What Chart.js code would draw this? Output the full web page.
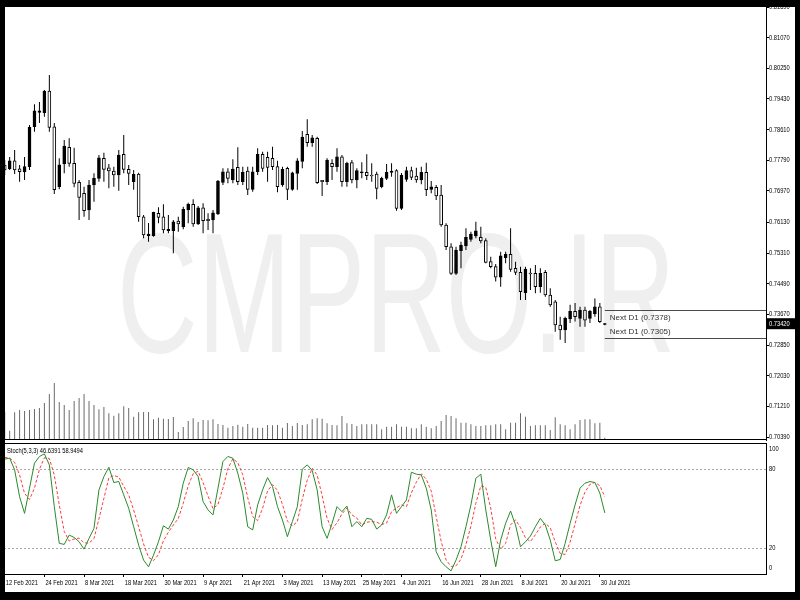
<!DOCTYPE html>
<html>
<head>
<meta charset="utf-8">
<script src="https://cdn.jsdelivr.net/npm/chart.js@4.4.1/dist/chart.umd.min.js"></script>
<style>
  html, body { margin: 0; padding: 0; background: #fff; }
  #wrap { position: relative; width: 800px; height: 600px; overflow: hidden; background: #fff; }
  #mark { position: absolute; left: 117px; top: 208px; font-family: 'Liberation Sans', Arial, sans-serif; font-size: 170px; line-height: 1; color: #efefef; transform: scaleX(0.657); transform-origin: 0 0; white-space: nowrap; }
  #main { position: absolute; left: 0; top: 0; }
  #stoch { position: absolute; left: 0; top: 441px; }
  #frame { position: absolute; left: 0; top: 0; width: 800px; height: 600px; box-sizing: border-box; border-style: solid; border-color: #000; border-width: 7px 5px 8px 5px; pointer-events: none; }
</style>
</head>
<body>
<div id="wrap">
  <div id="mark">CMPRO.IR</div>
  <canvas id="main" width="800" height="441"></canvas>
  <canvas id="stoch" width="800" height="159"></canvas>
  <div id="frame"></div>
</div>
<script>
// ===================
// Data
// ===================

const tickDates = ['12 Feb 2021', '24 Feb 2021', '8 Mar 2021', '18 Mar 2021', '30 Mar 2021', '9 Apr 2021', '21 Apr 2021', '3 May 2021',
  '13 May 2021', '25 May 2021', '4 Jun 2021', '16 Jun 2021', '28 Jun 2021', '8 Jul 2021', '20 Jul 2021', '30 Jul 2021'];
const barsPerDateTick = 8;

const opens = [
  0.77664, 0.77565, 0.77779, 0.77565, 0.77477, 0.77619, 0.78688, 0.79074, 0.79063, 0.79643,
  0.78688, 0.77084, 0.77691, 0.78137, 0.77710, 0.77201, 0.76907, 0.76461, 0.77129, 0.77308,
  0.77843, 0.77592, 0.77504, 0.77397, 0.77950, 0.77549, 0.77217, 0.77423, 0.76281, 0.75773,
  0.75773, 0.76372, 0.76281, 0.75907, 0.75907, 0.76166, 0.76014, 0.76461, 0.76613, 0.76086,
  0.76522, 0.76212, 0.76193, 0.76354, 0.77201, 0.77485, 0.77263, 0.77602, 0.77217, 0.77504,
  0.77014, 0.77485, 0.77950, 0.77870, 0.77843, 0.77619, 0.77129, 0.77576, 0.77014, 0.77442,
  0.77758, 0.78485, 0.78260, 0.78378, 0.77255, 0.77217, 0.77710, 0.77619, 0.77886, 0.77217,
  0.77726, 0.77263, 0.77458, 0.77469, 0.77397, 0.77423, 0.77084, 0.77308, 0.77469, 0.77512,
  0.76506, 0.77282, 0.77512, 0.77370, 0.77263, 0.77469, 0.77014, 0.77068, 0.76862, 0.76059,
  0.75479, 0.74768, 0.75372, 0.75498, 0.75677, 0.75765, 0.75730, 0.75640, 0.75080, 0.74946,
  0.74663, 0.75185, 0.75276, 0.74901, 0.74795, 0.74249, 0.74768, 0.74768, 0.74410, 0.74795,
  0.74187, 0.74008, 0.73385, 0.73251, 0.73545, 0.73748, 0.73563, 0.73786, 0.73563, 0.73687,
  0.73874, 0.73400];

const highs = [
  0.77798, 0.77878, 0.78065, 0.77664, 0.77878, 0.78734, 0.79287, 0.79349, 0.79670, 0.80071,
  0.78787, 0.77843, 0.78333, 0.78378, 0.78127, 0.77263, 0.77084, 0.77263, 0.77442, 0.77932,
  0.77993, 0.77691, 0.77619, 0.78065, 0.78466, 0.77664, 0.77530, 0.77458, 0.76327, 0.76113,
  0.76415, 0.76533, 0.76613, 0.76327, 0.76193, 0.76281, 0.76549, 0.76656, 0.76747, 0.76568,
  0.76640, 0.76372, 0.76461, 0.77263, 0.77576, 0.77576, 0.77816, 0.78137, 0.77619, 0.77619,
  0.77619, 0.78111, 0.78020, 0.78020, 0.78153, 0.77779, 0.77619, 0.77619, 0.77485, 0.77843,
  0.78573, 0.78889, 0.78466, 0.78421, 0.77263, 0.77843, 0.77816, 0.78111, 0.77932, 0.77752,
  0.77798, 0.77576, 0.77736, 0.77950, 0.77710, 0.77485, 0.77351, 0.77691, 0.77710, 0.77549,
  0.77450, 0.77619, 0.77619, 0.77592, 0.77619, 0.77726, 0.77236, 0.77129, 0.77129, 0.76105,
  0.75570, 0.75479, 0.75613, 0.75971, 0.75880, 0.76148, 0.76014, 0.75704, 0.75213, 0.75018,
  0.75345, 0.75345, 0.75971, 0.75080, 0.74946, 0.74946, 0.74901, 0.74991, 0.74901, 0.74856,
  0.74366, 0.74054, 0.73607, 0.73607, 0.73928, 0.73973, 0.73874, 0.73874, 0.73786, 0.74097,
  0.73973, 0.73440];

const lows = [
  0.77397, 0.77530, 0.77423, 0.77217, 0.77263, 0.77530, 0.78555, 0.78787, 0.78956, 0.78555,
  0.76888, 0.77014, 0.77442, 0.77619, 0.77068, 0.76193, 0.76281, 0.76193, 0.76683, 0.77217,
  0.77217, 0.77041, 0.77084, 0.76977, 0.77442, 0.77129, 0.77002, 0.76148, 0.75704, 0.75613,
  0.75746, 0.76105, 0.75837, 0.75837, 0.75303, 0.75880, 0.75944, 0.76105, 0.76014, 0.76059,
  0.75837, 0.75926, 0.75837, 0.76327, 0.77129, 0.77175, 0.77175, 0.77129, 0.77129, 0.76862,
  0.76950, 0.77397, 0.77485, 0.77217, 0.77530, 0.76934, 0.77084, 0.76728, 0.76977, 0.77002,
  0.77576, 0.78153, 0.78153, 0.77156, 0.76835, 0.77129, 0.77263, 0.77485, 0.77084, 0.77084,
  0.77175, 0.77041, 0.77308, 0.77263, 0.77217, 0.76747, 0.77041, 0.77263, 0.77351, 0.76442,
  0.76461, 0.77217, 0.77263, 0.77191, 0.77148, 0.76835, 0.76907, 0.76728, 0.76014, 0.75391,
  0.74722, 0.74722, 0.74901, 0.75391, 0.75613, 0.75704, 0.75570, 0.75035, 0.74901, 0.74546,
  0.74408, 0.75035, 0.74811, 0.74722, 0.74054, 0.74054, 0.74321, 0.74232, 0.74249, 0.74142,
  0.73874, 0.73206, 0.72994, 0.72905, 0.73437, 0.73482, 0.73339, 0.73339, 0.73437, 0.73607,
  0.73437, 0.73380];

const closes = [
  0.77530, 0.77779, 0.77530, 0.77485, 0.77619, 0.78672, 0.79116, 0.79116, 0.79643, 0.78672,
  0.77002, 0.77672, 0.78172, 0.77710, 0.77175, 0.76800, 0.76442, 0.77129, 0.77308, 0.77859,
  0.77549, 0.77504, 0.77397, 0.77932, 0.77549, 0.77442, 0.77415, 0.76281, 0.75792, 0.75819,
  0.76399, 0.76265, 0.75926, 0.75944, 0.76148, 0.76086, 0.76479, 0.76613, 0.76086, 0.76522,
  0.76174, 0.76174, 0.76388, 0.77236, 0.77485, 0.77308, 0.77557, 0.77217, 0.77469, 0.77014,
  0.77485, 0.77950, 0.77576, 0.77602, 0.77619, 0.77084, 0.77549, 0.77014, 0.77458, 0.77779,
  0.78413, 0.78260, 0.78394, 0.77191, 0.77217, 0.77798, 0.77619, 0.77886, 0.77217, 0.77710,
  0.77263, 0.77512, 0.77485, 0.77378, 0.77370, 0.77041, 0.77308, 0.77469, 0.77504, 0.76506,
  0.77397, 0.77512, 0.77335, 0.77263, 0.77469, 0.77002, 0.77084, 0.76835, 0.76059, 0.75479,
  0.74768, 0.75391, 0.75525, 0.75730, 0.75819, 0.75907, 0.75632, 0.75062, 0.74946, 0.74663,
  0.75238, 0.75276, 0.74875, 0.74795, 0.74276, 0.74883, 0.74749, 0.74410, 0.74768, 0.74187,
  0.73920, 0.73385, 0.73251, 0.73563, 0.73748, 0.73607, 0.73786, 0.73518, 0.73748, 0.73874,
  0.73473, 0.73420];

// tick volume, thousands
const volumes = [
  84, 28, 83, 90, 87, 90, 93, 96, 111, 138,
  171, 114, 105, 90, 117, 126, 138, 117, 105, 92,
  99, 80, 73, 80, 101, 96, 70, 83, 84, 84,
  62, 67, 64, 63, 69, 24, 39, 57, 65, 54,
  60, 59, 62, 48, 45, 37, 42, 46, 40, 48,
  37, 37, 37, 45, 44, 45, 37, 51, 42, 51,
  45, 47, 62, 65, 64, 50, 45, 44, 72, 50,
  48, 42, 47, 47, 47, 47, 32, 40, 40, 47,
  40, 40, 35, 35, 47, 40, 35, 42, 57, 75,
  72, 65, 52, 52, 47, 42, 42, 44, 44, 47,
  47, 32, 52, 52, 80, 70, 42, 44, 44, 44,
  30, 68, 47, 44, 32, 47, 60, 62, 62, 50,
  52, 7];

const stochK = [
  87.7, 88.4, 79.5, 59, 46.3, 65.5, 84.6, 89.7, 91.7, 83.3,
  51.4, 23.4, 22.6, 29.7, 27.9, 24.6, 19, 27.2, 34.8, 64.2,
  74.4, 81.5, 69.8, 70.6, 60.4, 50.2, 36.1, 22.1, 10.6, 5.5,
  14.4, 24.6, 36.8, 34.3, 41.2, 51.4, 69.3, 81.3, 79.5, 74.4,
  55.3, 48.9, 45.1, 65.5, 85.9, 89.7, 88.4, 76.9, 61.7, 36.1,
  33.6, 52.7, 64.2, 73.6, 66.8, 51.4, 41.2, 28.5, 40, 51.4,
  80, 83.3, 79, 64.2, 36.1, 27.2, 38.6, 51.4, 47.6, 51.9,
  36.1, 40, 36.1, 42.5, 41.7, 34.3, 37.4, 45.1, 60.4, 46.3,
  51.4, 56.5, 77.7, 76.2, 75.6, 65.5, 48.9, 17, 9.4, 5.5,
  2.4, 10.6, 20.8, 36.1, 52.7, 73.1, 76.2, 48.9, 25.9, 5.5,
  25.9, 38.6, 48.1, 37.4, 20.8, 24.6, 29, 36.1, 42.5, 37.4,
  25.9, 10.1, 11.1, 23.4, 38.6, 52.7, 65.5, 69.3, 70.6, 69.8,
  61.7, 46.6391];

const stochD = [
  89, 88.5, 85.2, 75.6, 61.6, 56.9, 65.5, 79.9, 88.7, 88.2,
  75.5, 52.7, 32.5, 25.2, 26.7, 27.4, 23.8, 23.6, 27, 42.1,
  57.8, 73.4, 75.2, 74, 66.9, 60.4, 48.9, 36.1, 22.9, 12.7,
  10.2, 14.8, 25.3, 31.9, 37.4, 42.3, 54, 67.3, 76.7, 78.4,
  69.7, 59.5, 49.8, 53.2, 65.5, 80.4, 88, 85, 75.7, 58.2,
  43.8, 40.8, 50.2, 63.5, 68.2, 63.9, 53.1, 40.4, 36.6, 40,
  57.1, 71.6, 80.8, 75.5, 59.8, 42.5, 34, 39.1, 45.9, 50.3,
  45.2, 42.7, 37.4, 39.5, 40.1, 39.5, 37.8, 38.9, 47.6, 50.6,
  52.7, 51.4, 61.9, 70.1, 76.5, 72.4, 63.3, 43.8, 25.1, 10.6,
  5.8, 6.2, 11.3, 22.5, 36.5, 54, 67.3, 66.1, 50.3, 26.8,
  19.1, 23.3, 37.5, 41.4, 35.4, 27.6, 24.8, 29.9, 35.9, 38.7,
  35.3, 24.5, 15.7, 14.9, 24.4, 38.2, 52.3, 62.5, 68.5, 69.9,
  67.4, 58.9494];

const priceTicks = [0.81890, 0.81070, 0.80250, 0.79430, 0.78610, 0.77790, 0.76970, 0.76130,
  0.75310, 0.74490, 0.73670, 0.72850, 0.72030, 0.71210, 0.70390];
const stochLevels = [20, 80];
const stochTicks = [0, 20, 80, 100];
const nextD1 = [0.7378, 0.7305];

// ===================
// Layout / style
// ===================

const xMin = -0.95, xMax = 153.5;
const smallFamily = "'Liberation Sans', sans-serif";
const smallFont = '7px ' + smallFamily;
const narrow = 0.82;

// MT4 labels are narrow; squeeze the text horizontally
function narrowText(ctx, text, x, y) {
  ctx.save();
  ctx.translate(x, y);
  ctx.scale(narrow, 1);
  ctx.fillText(text, 0, 0);
  ctx.restore();
}

const bodies = opens.map((o, i) => ({ x: i, y: [o, closes[i]] }));
const wicks = highs.map((h, i) => ({ x: i, y: [lows[i], h] }));
const vols = volumes.map((v, i) => ({ x: i, y: v }));
const bodyFill = opens.map((o, i) => closes[i] > o ? '#000' : '#fff');

// ===================
// Price panel
// ===================

const mainExtras = {
  id: 'mainExtras',
  afterDraw(chart) {
    const { ctx, chartArea: a, scales: { x, y } } = chart;
    ctx.save();
    ctx.lineWidth = 1;
    ctx.strokeStyle = '#000';
    ctx.beginPath();
    ctx.moveTo(a.left, a.bottom - 0.5);
    ctx.lineTo(a.right, a.bottom - 0.5);
    ctx.stroke();

    // price labels
    ctx.font = smallFont;
    ctx.fillStyle = '#000';
    ctx.textBaseline = 'middle';
    priceTicks.forEach(v => narrowText(ctx, v.toFixed(5), a.right + 3, y.getPixelForValue(v)));

    // Next D1 levels
    const x0 = x.getPixelForValue(closes.length - 1);
    ctx.strokeStyle = '#4a4a4a';
    nextD1.forEach(v => {
      const py = Math.round(y.getPixelForValue(v)) + 0.5;
      ctx.beginPath();
      ctx.moveTo(x0, py);
      ctx.lineTo(a.right, py);
      ctx.stroke();
    });
    ctx.font = "8px 'Liberation Sans', sans-serif";
    ctx.fillStyle = '#333';
    ctx.fillText('Next D1 (' + nextD1[0].toFixed(4) + ')', x0 + 5, y.getPixelForValue(nextD1[0]) + 7.5);
    ctx.fillText('Next D1 (' + nextD1[1].toFixed(4) + ')', x0 + 5, y.getPixelForValue(nextD1[1]) - 6);

    // current price box
    const last = closes[closes.length - 1];
    const py = y.getPixelForValue(last);
    ctx.fillStyle = '#000';
    ctx.fillRect(a.right, py - 5.5, 30, 11);
    ctx.fillStyle = '#fff';
    ctx.font = smallFont;
    narrowText(ctx, last.toFixed(5), a.right + 3, py);
    ctx.restore();
  }
};

new Chart(document.getElementById('main'), {
  type: 'bar',
  data: {
    datasets: [
      { data: bodies, backgroundColor: bodyFill, borderColor: '#000', borderWidth: 1, borderSkipped: false,
        barThickness: 3, minBarLength: 1, grouped: false, order: 0 },
      { data: wicks, backgroundColor: '#000', borderWidth: 0, barThickness: 1, inflateAmount: 0,
        grouped: false, order: 1 },
      { data: vols, yAxisID: 'yv', backgroundColor: '#6a6a6a', borderWidth: 0, barThickness: 1,
        inflateAmount: 0, grouped: false, order: 2 }
    ]
  },
  options: {
    responsive: false,
    animation: false,
    devicePixelRatio: 1,
    events: [],
    layout: { padding: { top: 7, bottom: 1, left: 0, right: 0 } },
    plugins: { legend: { display: false }, tooltip: { enabled: false } },
    scales: {
      x: { type: 'linear', min: xMin, max: xMax, offset: false, display: false },
      y: {
        position: 'right', min: 0.7031, max: 0.8189, beginAtZero: false,
        afterBuildTicks: s => { s.ticks = priceTicks.map(v => ({ value: v })); },
        afterFit: s => { s.width = 34; s.paddingTop = 0; s.paddingBottom = 0; },
        ticks: { display: false },
        grid: { drawOnChartArea: false, drawTicks: true, tickLength: 3, color: '#000' },
        border: { color: '#000' }
      },
      yv: { type: 'linear', display: false, min: 0, max: 1299 }
    }
  },
  plugins: [mainExtras]
});

// ===================
// Stochastic panel
// ===================

const stochExtras = {
  id: 'stochExtras',
  beforeDatasetsDraw(chart) {
    const { ctx, chartArea: a, scales: { y } } = chart;
    ctx.save();
    ctx.strokeStyle = '#a8a8a8';
    ctx.lineWidth = 1;
    ctx.setLineDash([2, 2]);
    stochLevels.forEach(v => {
      const py = Math.round(y.getPixelForValue(v)) + 0.5;
      ctx.beginPath();
      ctx.moveTo(a.left, py);
      ctx.lineTo(a.right, py);
      ctx.stroke();
    });
    ctx.restore();
  },
  afterDraw(chart) {
    const { ctx, chartArea: a, scales: { x, y } } = chart;
    ctx.save();
    ctx.strokeStyle = '#000';
    ctx.lineWidth = 1;
    ctx.beginPath();
    ctx.moveTo(a.left, a.top + 0.5);
    ctx.lineTo(a.right, a.top + 0.5);
    ctx.stroke();

    ctx.font = smallFont;
    ctx.fillStyle = '#000';
    ctx.textBaseline = 'middle';
    stochTicks.forEach(v => {
      const py = Math.min(Math.max(y.getPixelForValue(v), a.top + 6), a.bottom - 6);
      narrowText(ctx, String(v), a.right + 3, py);
    });
    const k = stochK[stochK.length - 1], d = stochD[stochD.length - 1];
    narrowText(ctx, 'Stoch(5,3,3) ' + k.toFixed(4) + ' ' + d.toFixed(4), 7, a.top + 8);

    // date labels under the tick marks
    tickDates.forEach((t, n) => narrowText(ctx, t, x.getPixelForValue(n * barsPerDateTick) + 1, a.bottom + 9));
    ctx.restore();
  }
};

new Chart(document.getElementById('stoch'), {
  type: 'line',
  data: {
    datasets: [
      { data: stochK.map((v, i) => ({ x: i, y: v })), borderColor: '#2a8a2a', borderWidth: 1, pointRadius: 0, tension: 0 },
      { data: stochD.map((v, i) => ({ x: i, y: v })), borderColor: '#ff3b3b', borderWidth: 1, borderDash: [3, 2], pointRadius: 0, tension: 0 }
    ]
  },
  options: {
    responsive: false,
    animation: false,
    devicePixelRatio: 1,
    events: [],
    layout: { padding: { top: 2, bottom: 0, left: 0, right: 0 } },
    plugins: { legend: { display: false }, tooltip: { enabled: false } },
    scales: {
      x: {
        type: 'linear', min: xMin, max: xMax, offset: false,
        afterBuildTicks: s => { s.ticks = tickDates.map((d, k) => ({ value: k * barsPerDateTick })); },
        afterFit: s => { s.height = 26; s.paddingLeft = 0; s.paddingRight = 0; },
        ticks: { display: false },
        grid: { drawOnChartArea: false, drawTicks: true, tickLength: 3, color: '#000' },
        border: { color: '#000' }
      },
      y: {
        position: 'right', min: 0, max: 100,
        afterBuildTicks: s => { s.ticks = stochTicks.map(v => ({ value: v })); },
        afterFit: s => { s.width = 34; s.paddingTop = 0; s.paddingBottom = 0; },
        ticks: { display: false },
        grid: { display: false },
        border: { color: '#000' }
      }
    }
  },
  plugins: [stochExtras]
});
</script>
</body>
</html>
